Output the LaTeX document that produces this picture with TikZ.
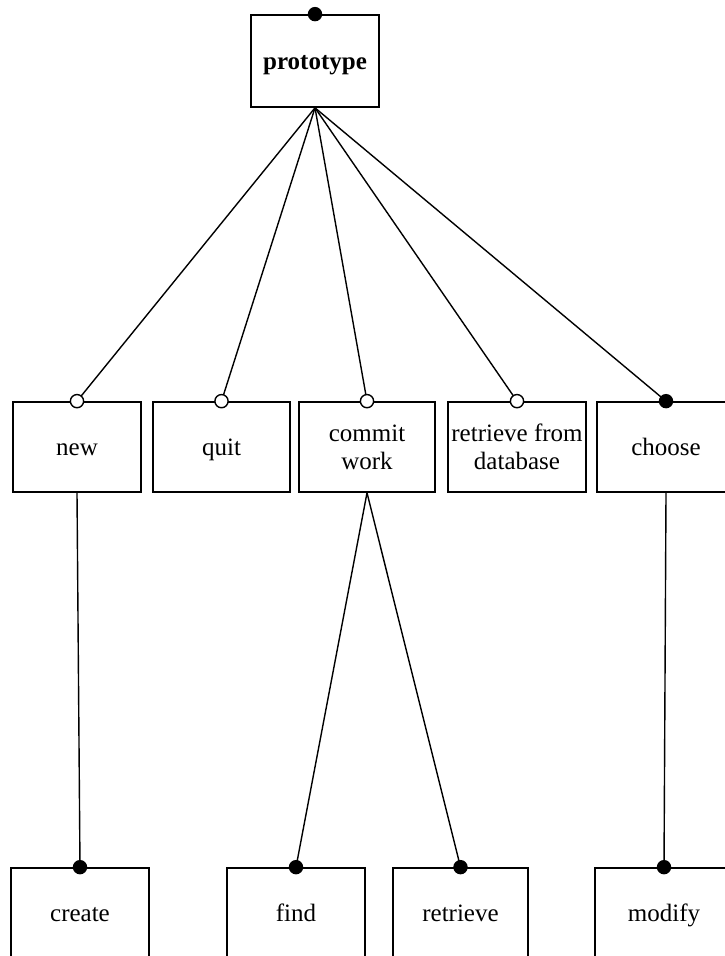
\documentclass[tikz,border=0pt]{standalone}
\usepackage{fontspec}
\setmainfont{Liberation Serif}
\begin{document}
\begin{tikzpicture}[x=0.5pt,y=-0.5pt,line width=0.7pt,
		box/.style={draw,rectangle,line width=0.85pt,minimum width=69pt,minimum height=45pt,align=center,inner sep=1pt,font=\fontsize{12.5}{14}\selectfont},
		word/.style={box,text height=11pt,text depth=2.6pt},
		knob/.style={fill=black},
		hole/.style={draw,fill=white}]
		  \useasboundingbox (0,0) rectangle (724,956);
		  \node[word,minimum width=64pt,minimum height=46pt,font=\fontsize{12.5}{14}\selectfont\bfseries] (proto) at (315,61) {prototype};
		  \node[word,minimum width=64pt] (new) at (77,447) {new};
		  \node[word,minimum width=68.5pt] (quit) at (221.5,447) {quit};
		  \node[box,minimum width=68pt] (commit) at (367,447) {commit\\work};
		  \node[box] (rfd) at (517,447) {retrieve from\\database};
		  \node[word] (choose) at (666,447) {choose};
		  \node[word] (create) at (80,913) {create};
		  \node[word] (find) at (296,913) {find};
		  \node[word,minimum width=67.5pt] (retrieve) at (460.5,913) {retrieve};
		  \node[word] (modify) at (664,913) {modify};
		  \foreach \n in {new,quit,commit,rfd,choose}
		    \draw (proto.south) -- (\n.north);
		  \draw (new.south) -- (create.north);
		  \draw (commit.south) -- (find.north);
		  \draw (commit.south) -- (retrieve.north);
		  \draw (choose.south) -- (modify.north);
		  \foreach \n in {proto,choose,create,find,retrieve,modify}
		    \fill[knob] (\n.north) circle (3.6pt);
		  \foreach \n in {new,quit,commit,rfd}
		    \draw[hole] (\n.north) circle (3.3pt);
		\end{tikzpicture}
\end{document}
